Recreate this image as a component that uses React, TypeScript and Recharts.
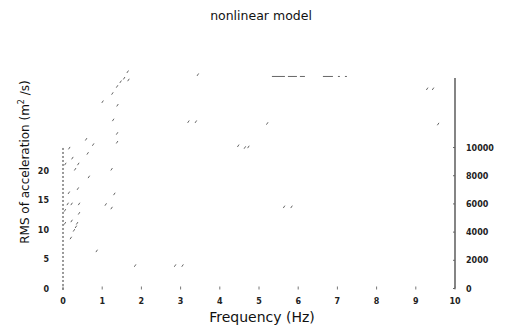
import React from 'react';
import {
  ComposedChart,
  Scatter,
  XAxis,
  YAxis,
  ReferenceLine
} from 'recharts';

// x ticks (Hz), left ticks (RMS), right ticks
const freqTicks = [0, 1, 2, 3, 4, 5, 6, 7, 8, 9, 10];
const rmsTicks = [0, 5, 10, 15, 20];
const rightTicks = [0, 2000, 4000, 6000, 8000, 10000];

// scattered marks left of the scan (frequency, rms)
const markFreq = [
  1.65, 1.56, 1.67, 1.47, 1.38, 1.26, 1.01, 1.39, 1.28, 1.38, 1.38, 0.59, 0.77,
  0.16, 0.63, 0.24, 0.39, 0.06, 0.31, 1.24, 0.66, 0.38, 0.15, 1.31, 0.12, 0.22,
  0.41, 1.09, 1.24, 0.41, 0.05, 0.22, 0.36, 0.05, 0.28, 0.33, 0.2, 0.86, 1.84,
  2.86, 3.05, 3.44, 3.2, 3.39, 5.21, 4.47, 4.64, 4.73, 5.64, 5.83, 9.29, 9.44,
  9.57
];
const markRms = [
  36.9, 35.8, 35.5, 35.2, 34.4, 33.2, 31.8, 31.2, 28.7, 26.4, 24.9, 25.4, 24.5,
  23.9, 23.0, 22.2, 21.2, 21.2, 20.3, 20.3, 19.0, 17.0, 16.3, 16.1, 14.4, 14.4,
  14.4, 14.3, 13.7, 12.8, 13.3, 11.5, 11.1, 11.1, 9.9, 10.5, 8.6, 6.4, 3.9,
  3.9, 3.9, 36.4, 28.4, 28.4, 28.1, 24.3, 24.0, 24.1, 13.9, 13.9, 34.0, 34.0,
  28.0
];

// faint dashed trace near the top
const topTraceFreq = [5.33, 7.37];
const topTraceRms = 36.1;

// extent of the drawn axis lines
const leftAxisSpan = [-0.25, 24.1];
const rightAxisSpan = [0, 14930];

const marks = markFreq.map((f, i) => ({ f, v: markRms[i] }));

const FONT = 'DejaVu Sans, sans-serif';

const Speck = (props: any) => {
  const { cx, cy } = props;
  return (
    <line x1={cx - 0.8} y1={cy + 1.2} x2={cx + 0.8} y2={cy - 1.2} stroke="#666" strokeWidth={1} />
  );
};

const XTick = (props: any) => {
  const { x, y, payload } = props;
  return (
    <g>
      <line x1={x} y1={y - 2} x2={x} y2={y + 1} stroke="#777" />
      <text x={x} y={y + 15.5} textAnchor="middle" fontSize={8} fontWeight="bold" fontFamily={FONT} fill="#222">
        {payload.value}
      </text>
    </g>
  );
};

const LeftTick = (props: any) => {
  const { x, y, payload } = props;
  return (
    <text x={x} y={y + 3} textAnchor="end" fontSize={8} fontWeight="bold" fontFamily={FONT} fill="#222">
      {payload.value}
    </text>
  );
};

const RightTick = (props: any) => {
  const { x, y, payload } = props;
  return (
    <g>
      <line x1={x - 13} y1={y} x2={x - 11} y2={y} stroke="#666" />
      <text x={x} y={y + 3} textAnchor="start" fontSize={8} fontWeight="bold" fontFamily={FONT} fill="#222">
        {payload.value}
      </text>
    </g>
  );
};

export default function App() {
  return (
    <div style={{ position: 'absolute', left: 0, top: 0, width: 505, height: 327, background: '#fff' }}>
      <ComposedChart
        width={505}
        height={327}
        margin={{ top: 70, right: 0, left: 0, bottom: 8.5 }}
      >
        <XAxis
          type="number"
          dataKey="f"
          domain={[0, 10]}
          ticks={freqTicks}
          axisLine={false}
          tickLine={false}
          tickSize={0}
          tickMargin={0}
          height={30}
          tick={<XTick />}
          allowDataOverflow
        />
        <YAxis
          yAxisId="left"
          type="number"
          dataKey="v"
          domain={[0, 37.2]}
          ticks={rmsTicks}
          axisLine={false}
          tickLine={false}
          tickSize={0}
          tickMargin={14}
          width={63}
          tick={<LeftTick />}
          allowDataOverflow
        />
        <YAxis
          yAxisId="right"
          orientation="right"
          type="number"
          domain={[0, 15500]}
          ticks={rightTicks}
          axisLine={false}
          tickLine={false}
          tickSize={0}
          tickMargin={11}
          width={50}
          tick={<RightTick />}
          allowDataOverflow
        />
        <ReferenceLine
          yAxisId="left"
          segment={[
            { x: 0, y: leftAxisSpan[0] },
            { x: 0, y: leftAxisSpan[1] }
          ]}
          stroke="#333"
          strokeDasharray="2 2"
          ifOverflow="visible"
        />
        <ReferenceLine
          yAxisId="right"
          segment={[
            { x: 10, y: rightAxisSpan[0] },
            { x: 10, y: rightAxisSpan[1] }
          ]}
          stroke="#333"
          strokeWidth={1.2}
          ifOverflow="visible"
        />
        <ReferenceLine
          yAxisId="left"
          segment={[
            { x: topTraceFreq[0], y: topTraceRms },
            { x: topTraceFreq[1], y: topTraceRms }
          ]}
          stroke="#666"
          strokeDasharray="13 3 9 3 5 18 10 5 2 5 2 5 2 60"
          ifOverflow="visible"
        />
        <Scatter
          yAxisId="left"
          data={marks}
          dataKey="v"
          shape={<Speck />}
          isAnimationActive={false}
        />
      </ComposedChart>
      <svg
        width={505}
        height={327}
        style={{ position: 'absolute', left: 0, top: 0, pointerEvents: 'none' }}
      >
        <text x={261} y={20} textAnchor="middle" fontSize={12.5} fontFamily={FONT} fill="#111">
          nonlinear model
        </text>
        <text x={262} y={322} textAnchor="middle" fontSize={14} fontFamily={FONT} fill="#111">
          Frequency (Hz)
        </text>
        <text
          transform="translate(29, 162) rotate(-90)"
          textAnchor="middle"
          fontSize={12}
          fontFamily={FONT}
          fill="#111"
        >
          RMS of acceleration (m<tspan dy={-5} fontSize={8}>2</tspan>
          <tspan dy={5}> /s)</tspan>
        </text>
      </svg>
    </div>
  );
}
